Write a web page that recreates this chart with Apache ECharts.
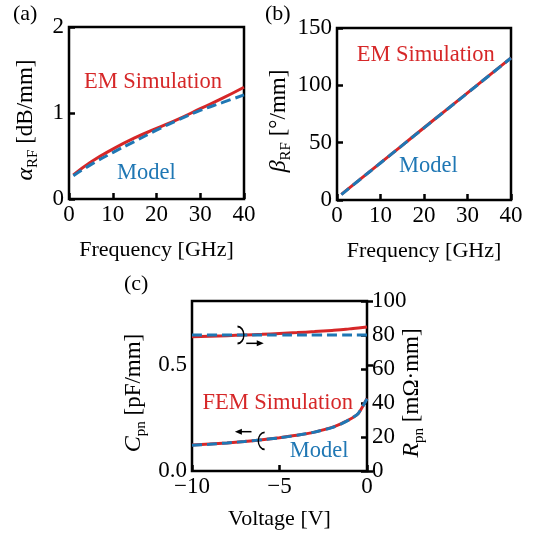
<!DOCTYPE html>
<html>
<head>
<meta charset="utf-8">
<script src="https://cdn.jsdelivr.net/npm/echarts@6/dist/echarts.min.js"></script>
<style>
html, body { margin: 0; padding: 0; background: #fff; }
#chart { width: 533px; height: 534px; }
</style>
</head>
<body>
<div id="chart"></div>
<script>
// (a), (b) frequency sweep
var freq = [1, 5, 10, 15, 20, 25, 30, 35, 40]
var alphaEM = [0.28, 0.43, 0.58, 0.71, 0.82, 0.93, 1.05, 1.17, 1.30]
var alphaModel = [0.27, 0.40, 0.54, 0.67, 0.80, 0.92, 1.03, 1.12, 1.21]
var betaEM = [4.9, 17.1, 32.4, 47.7, 63.0, 78.2, 93.4, 108.7, 124.0]
var betaModel = [4.7, 17.0, 32.3, 47.6, 62.9, 78.1, 93.3, 108.6, 123.8]
// (c) bias sweep
var volt = [-10, -9, -8, -7, -6, -5, -4, -3, -2, -1.5, -1, -0.5, 0]
var cpnFEM = [0.122, 0.127, 0.132, 0.139, 0.147, 0.157, 0.168, 0.183, 0.205, 0.222, 0.242, 0.270, 0.342]
var cpnModel = [0.121, 0.126, 0.132, 0.139, 0.147, 0.156, 0.168, 0.183, 0.204, 0.221, 0.242, 0.271, 0.340]
var rpnFEM = [79.0, 79.3, 79.6, 80.0, 80.4, 80.9, 81.4, 82.0, 82.7, 83.1, 83.6, 84.1, 84.7]
var rpnModel = [80, 80, 80, 80, 80, 80, 80, 80, 80, 80, 80, 80, 80]
// tick labels
var xTicksC = [-10, -5, 0]
var yTicksCLeft = [0, 0.5]

var RED = '#d62728'
var BLUE = '#1f77b4'
var FONT = '"Liberation Serif", "Times New Roman", serif'

function pairs(xs, ys) {
    return xs.map(function (x, i) { return [x, ys[i]] })
}

var nameRich = {
    it: { fontStyle: 'italic', fontSize: 24, fontFamily: FONT, color: '#000' },
    sub: { fontSize: 15, fontFamily: FONT, color: '#000', padding: [15, 0, 0, 0] },
    n: { fontSize: 23, fontFamily: FONT, color: '#000', padding: [0, 14, 0, 0] }
}

function xAx(grid, min, max, interval, name, gap, fmt) {
    return {
        gridIndex: grid, type: 'value', min: min, max: max, interval: interval,
        name: name, nameLocation: 'middle', nameGap: gap,
        nameTextStyle: { color: '#000', fontSize: 22, fontFamily: FONT },
        axisLine: { show: false },
        axisTick: { inside: true, length: 6, lineStyle: { color: '#000', width: 2.5 } },
        axisLabel: { color: '#000', fontSize: 23, fontFamily: FONT, margin: 4, formatter: fmt },
        splitLine: { show: false }
    }
}

function yAx(grid, min, max, interval, name, gap, fmt, pos) {
    return {
        gridIndex: grid, type: 'value', min: min, max: max, interval: interval,
        position: pos || 'left',
        name: name, nameLocation: 'middle', nameGap: gap, nameRotate: 90,
        nameMoveOverlap: pos !== 'right',
        nameTextStyle: { color: '#000', fontSize: 23, fontFamily: FONT, rich: nameRich },
        axisLine: { show: false },
        axisTick: { inside: true, length: 6, lineStyle: { color: '#000', width: 2.5 } },
        axisLabel: { color: '#000', fontSize: 23, fontFamily: FONT, margin: 5, formatter: fmt },
        splitLine: { show: false }
    }
}

function line(name, x, y, data, color, dashed, smooth) {
    return {
        name: name, type: 'line', xAxisIndex: x, yAxisIndex: y,
        data: data, showSymbol: false, symbol: 'none', smooth: smooth,
        lineStyle: { color: color, width: 3, type: dashed ? [10, 5] : 'solid' },
        z: dashed ? 3 : 2
    }
}

var gridBox = { show: true, borderColor: '#000', borderWidth: 2.5, backgroundColor: 'transparent', outerBoundsMode: 'none' }

var option = {
    animation: false,
    backgroundColor: '#fff',
    grid: [
        Object.assign({ left: 69, top: 27, width: 175, height: 172 }, gridBox),
        Object.assign({ left: 337, top: 28, width: 174, height: 172 }, gridBox),
        Object.assign({ left: 192, top: 301, width: 175, height: 170 }, gridBox)
    ],
    xAxis: [
        xAx(0, 0, 40, 10, 'Frequency [GHz]', 40),
        xAx(1, 0, 40, 10, 'Frequency [GHz]', 40),
        xAx(2, -10, 0, 5, 'Voltage [V]', 37, function (v) {
            return xTicksC.indexOf(v) < 0 ? '' : (v < 0 ? '\u2212' + Math.abs(v) : String(v))
        })
    ],
    yAxis: [
        yAx(0, 0, 2, 1, '{it|α}{sub|RF}{n| [dB/mm]}', 28),
        yAx(1, 0, 150, 50, '{it|β}{sub|RF}{n| [°/mm]}', 42),
        yAx(2, 0, 0.8, 0.5, '{it|C}{sub|pn}{n| [pF/mm]}', 43, function (v) {
            return yTicksCLeft.indexOf(v) < 0 ? '' : v.toFixed(1)
        }),
        yAx(2, 0, 100, 20, '{it|R}{sub|pn}{n| [mΩ·mm]}', 30, null, 'right')
    ],
    series: [
        line('EM Simulation', 0, 0, pairs(freq, alphaEM), RED, false, true),
        line('Model', 0, 0, pairs(freq, alphaModel), BLUE, true, true),
        line('EM Simulation', 1, 1, pairs(freq, betaEM), RED, false, true),
        line('Model', 1, 1, pairs(freq, betaModel), BLUE, true, true),
        line('FEM Simulation', 2, 2, pairs(volt, cpnFEM), RED, false, 0.2),
        line('Model', 2, 2, pairs(volt, cpnModel), BLUE, true, 0.2),
        line('FEM Simulation', 2, 3, pairs(volt, rpnFEM), RED, false, true),
        line('Model', 2, 3, pairs(volt, rpnModel), BLUE, true, true)
    ]
}

var chart = echarts.init(document.getElementById('chart'), null, { renderer: 'canvas' })
chart.setOption(option)

// annotations anchored to data coordinates
function px(sIdx, pt) {
    return chart.convertToPixel({ seriesIndex: sIdx }, pt)
}
function label(text, color, p) {
    return {
        type: 'text', x: p[0], y: p[1], z: 10,
        style: { text: text, fill: color, fontSize: 22.5, fontFamily: FONT, align: 'center', verticalAlign: 'middle' }
    }
}
function panel(text, left, top) {
    return {
        type: 'text', left: left, top: top,
        style: { text: text, fill: '#000', fontSize: 22, fontFamily: FONT }
    }
}
function arc(p, start, end) {
    return {
        type: 'arc', x: p[0], y: p[1], scaleX: 0.75, z: 10,
        shape: { cx: 0, cy: 0, r: 8.5, startAngle: start, endAngle: end, clockwise: true },
        style: { stroke: '#000', lineWidth: 1.8, fill: null }
    }
}
function arrow(p0, p1) {
    var dir = p1[0] > p0[0] ? 1 : -1
    var tip = p1[0], y = p1[1]
    return [
        { type: 'line', z: 10, shape: { x1: p0[0], y1: y, x2: tip - dir * 4, y2: y }, style: { stroke: '#000', lineWidth: 1.5 } },
        { type: 'polygon', z: 10, shape: { points: [[tip, y], [tip - dir * 7, y - 3], [tip - dir * 7, y + 3]] }, style: { fill: '#000' } }
    ]
}

var g = [
    panel('(a)', 13, 3),
    panel('(b)', 265, 3),
    panel('(c)', 124, 273),
    label('EM Simulation', RED, px(0, [19.2, 1.36])),
    label('Model', BLUE, px(0, [17.7, 0.30])),
    label('EM Simulation', RED, px(2, [20.4, 126])),
    label('Model', BLUE, px(2, [21, 30])),
    label('FEM Simulation', RED, px(4, [-5.1, 0.32])),
    label('Model', BLUE, px(4, [-2.74, 0.094])),
    arc(px(6, [-7.4, 80]), -Math.PI / 2, Math.PI / 2),
    arc(px(4, [-5.85, 0.142]), Math.PI / 2, Math.PI * 1.5)
].concat(
    arrow(px(6, [-6.9, 75.1]), px(6, [-5.9, 75.1])),
    arrow(px(4, [-6.6, 0.185]), px(4, [-7.55, 0.185]))
)

chart.setOption({ graphic: g })
</script>
</body>
</html>
